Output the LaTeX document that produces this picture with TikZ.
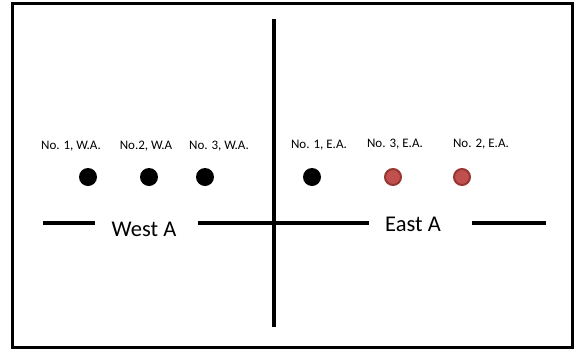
\documentclass[tikz,border=0pt]{standalone}
\usepackage{fontspec}
\setmainfont{Carlito}
\usetikzlibrary{positioning}
\definecolor{redfill}{RGB}{192,80,77}
\definecolor{redline}{RGB}{150,55,52}

\begin{document}
\begin{tikzpicture}[x=1pt,y=-1pt,line width=3.2pt,
  hole/.style={circle,inner sep=0pt,minimum size=18pt,fill=black},
  redhole/.style={circle,inner sep=0pt,minimum size=16pt,draw=redline,line width=2pt,fill=redfill},
  tag/.style={anchor=base,inner sep=0pt,font=\fontsize{13}{15}\selectfont},
  side/.style={anchor=base,inner sep=0pt,font=\fontsize{22.5}{26}\selectfont}]
\useasboundingbox (0,0) rectangle (574,349);
% frame and the two axes
\draw[line width=3pt] (12,3) rectangle (572,347);
\draw (274,19) -- (274,327);
\draw (43,223) -- (95,223);
\draw (198,223) -- (369,223);
\draw (472,223) -- (546,223);
% sides
\node (west) at (144,236) [side] {West A};
\node (east) at (413,231) [side] {East A};
% labels
\node (lw1) at ( 71,149) [tag] {No. 1, W.A.};
\node (lw2) at (146,149) [tag] {No.2, W.A};
\node (lw3) at (219,149) [tag] {No. 3, W.A.};
\node (le1) at (319,148) [tag] {No. 1, E.A.};
\node (le3) at (395,147) [tag] {No. 3, E.A.};
\node (le2) at (481,147) [tag] {No. 2, E.A.};
% holes
\node (hw1) at ( 88,177) [hole] {};
\node (hw2) at (149,177) [hole] {};
\node (hw3) at (205,177) [hole] {};
\node (he1) at (312,177) [hole] {};
\node (he3) at (393,177) [redhole] {};
\node (he2) at (462,177) [redhole] {};
\end{tikzpicture}
\end{document}
